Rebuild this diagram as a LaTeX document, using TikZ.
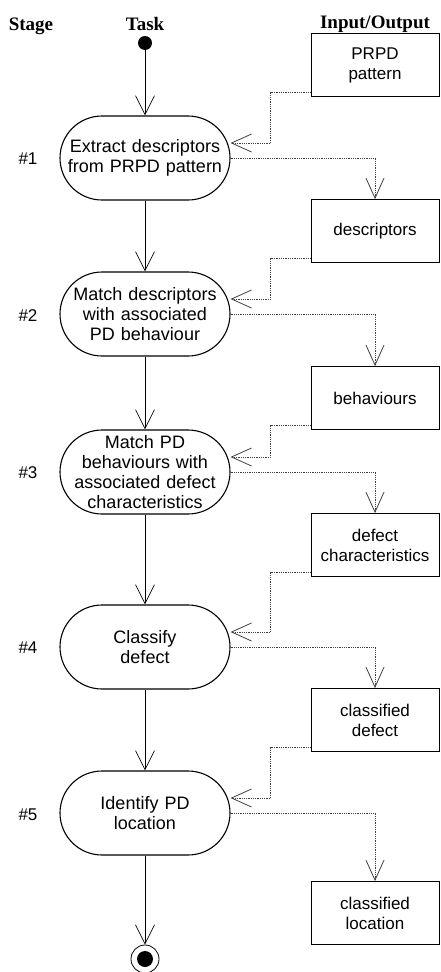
\documentclass[tikz,border=0pt]{standalone}
\usepackage{fontspec}
\setmainfont{Liberation Sans}
\newfontfamily\headfont{Liberation Serif}
\usetikzlibrary{arrows.meta,positioning}
\tikzset{
  activity/.style={rectangle, draw, line width=1.1pt, rounded corners=42pt,
    minimum width=170pt, minimum height=84pt, text width=166pt, inner sep=0pt,
    align=center, font=\fontsize{18}{20}\selectfont},
  databox/.style={rectangle, draw, line width=0.8pt, minimum width=128pt,
    minimum height=63pt, inner sep=0pt, align=center, font=\fontsize{17}{20}\selectfont},
  header/.style={font=\headfont\bfseries\fontsize{19}{22}\selectfont, anchor=base},
  stagenum/.style={font=\fontsize{17}{20}\selectfont},
  flow/.style={line width=0.7pt, -{Straight Barb[length=19pt,width=19pt]}},
  dataflow/.style={densely dotted, line width=0.8pt, draw=black!75,
    -{Straight Barb[length=20pt,width=18pt]}}
}

\begin{document}
\begin{tikzpicture}[x=1pt, y=-1pt]
    \useasboundingbox (0,0) rectangle (440,972);
    \pgfmathsetmacro{\taskX}{145}
    \pgfmathsetmacro{\dataX}{375}
    \pgfmathsetmacro{\stageX}{28}

    % Headers
    \node[header] (hstage) at (31,30) {Stage};
    \node[header] (htask) at (\taskX,30) {Task};
    \node[header] (hio) at (\dataX,28) {Input/Output};

    % Start / end
    \node[circle, fill, minimum size=14pt, inner sep=0pt] (start) at (\taskX,43) {};
    \node[circle, draw, line width=0.8pt, minimum size=28pt, inner sep=0pt] (finish) at (\taskX,959) {};
    \node[circle, fill, minimum size=16pt, inner sep=0pt] (finishdot) at (finish) {};

    % Tasks
    \node[activity] (st1) at (\taskX,158) {Extract descriptors\\from PRPD pattern};
    \node[activity] (st2) at (\taskX,314) {Match descriptors\\with associated\\PD behaviour};
    \node[activity] (st3) at (\taskX,472) {Match PD\\behaviours with\\associated defect\\characteristics};
    \node[activity] (st4) at (\taskX,647) {Classify\\defect};
    \node[activity] (st5) at (\taskX,813) {Identify PD\\location};

    % Stage numbers
    \node[stagenum] (n1) at (\stageX,159) {\#1};
    \node[stagenum] (n2) at (\stageX,316) {\#2};
    \node[stagenum] (n3) at (\stageX,473) {\#3};
    \node[stagenum] (n4) at (\stageX,648) {\#4};
    \node[stagenum] (n5) at (\stageX,815) {\#5};

    % Inputs/outputs
    \node[databox] (io0) at (\dataX,65) {PRPD\\pattern};
    \node[databox] (io1) at (\dataX,231) {descriptors};
    \node[databox] (io2) at (\dataX,398) {behaviours};
    \node[databox] (io3) at (\dataX,545) {defect\\characteristics};
    \node[databox] (io4) at (\dataX,720) {classified\\defect};
    \node[databox] (io5) at (\dataX,913) {classified\\location};

    % Control flow
    \draw[flow] (start) -- (st1);
    \draw[flow] (st1) -- (st2);
    \draw[flow] (st2) -- (st3);
    \draw[flow] (st3) -- (st4);
    \draw[flow] (st4) -- (st5);
    \draw[flow] (st5) -- (finish);

    % Data flow
    \foreach \ii/\jj in {0/1,1/2,2/3,3/4,4/5}{
        \draw[dataflow] ([yshift=5pt]io\ii.south west) -- ++(-40,0) |- ([yshift=15pt]st\jj.east);
        \draw[dataflow] (st\jj.east) -| (io\jj.north);
    }
\end{tikzpicture}
\end{document}
